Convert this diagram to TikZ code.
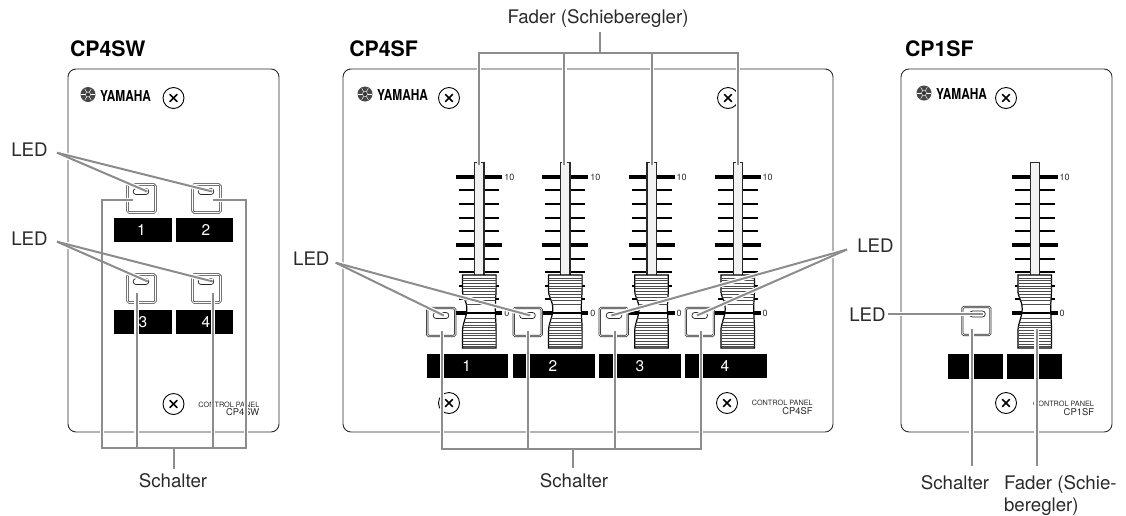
\documentclass[tikz,border=0pt]{standalone}
\usepackage{fontspec}
\setmainfont{TeX Gyre Heros}
\definecolor{ldrgray}{HTML}{8C8C8C}
\definecolor{inkc}{HTML}{2A2A2A}
\newcommand{\fs}[1]{\fontsize{#1}{#1}\selectfont}
\tikzset{
  panel/.style={draw=inkc,line width=.9,rounded corners=8,fill=white},
  lbl/.style={inner sep=0,outer sep=0,anchor=base,text=inkc,font=\fs{18.7}},
  ttl/.style={inner sep=0,outer sep=0,anchor=base west,text=black,font=\fs{21.3}\bfseries},
  btn/.style={draw=inkc,line width=.7,double=white,double distance=.7,rounded corners=1.5,minimum width=28,minimum height=28,inner sep=0,outer sep=0},
  ledcap/.style={draw=inkc,line width=.75,rounded corners=2.8,minimum width=15.5,minimum height=6,inner sep=0,outer sep=0},
  barbox/.style={fill=black,minimum height=24,inner sep=0,outer sep=0},
  digit/.style={text=white,font=\fs{15.5},inner sep=0,outer sep=0},
  screwc/.style={draw=black,line width=.9,circle,minimum size=21,inner sep=0,outer sep=0,fill=white},
  small/.style={inner sep=0,outer sep=0,text=inkc,anchor=base east},
  scaletxt/.style={inner sep=0,outer sep=0,text=inkc,font=\fs{9}},
}
\newcommand{\screw}[3]{%
  \node[screwc] (#3) at (#1,#2) {};
  \draw[line width=1.7,line cap=round,black] ([shift={(-3.5,-3.5)}]#3.center) -- ([shift={(3.5,3.5)}]#3.center);
  \draw[line width=1.7,line cap=round,black] ([shift={(-3.5,3.5)}]#3.center) -- ([shift={(3.5,-3.5)}]#3.center);
}
\newcommand{\yamaha}[3]{%
  \node[circle,fill=black!72,minimum size=15,inner sep=0,outer sep=0] (#3c) at (#1,#2) {};
  \foreach \ang in {0,60,120}{
    \draw[white,line width=.45] ([shift={(\ang:6.6)}]#3c.center) -- ([shift={(\ang+180:6.6)}]#3c.center);
  }
  \node[circle,draw=white,line width=.4,fill=black!80,minimum size=5,inner sep=0] (#3d) at (#1,#2) {};
  \node[inner sep=0,outer sep=0,anchor=west] (#3t) at (#1+12,#2+1) {\resizebox{51pt}{11pt}{\bfseries YAMAHA}};
}
\newcommand{\knobpath}{(-16.8,275) -- (-16.8,290) .. controls (-16.8,298) and (-12.5,300) .. (-12.5,309)
      .. controls (-12.5,318) and (-16.8,322) .. (-16.8,332) -- (-16.8,348) -- (16.8,348)
      -- (16.8,332) .. controls (16.8,322) and (16,316) .. (16,309) .. controls (16,300) and (16.8,296) .. (16.8,288)
      -- (16.8,275) -- cycle}
\newcommand{\fader}[3]{%
  \begin{scope}[shift={(#1,0)}]
    \foreach \yy in {190,204,218,231,259,272,286,299}{
      \draw[black,line width=1.8] (-20,\yy) -- (20,\yy);
    }
    \foreach \yy in {177,245,313}{
      \draw[black,line width=4] (-23,\yy) -- (23,\yy);
    }
    \draw[inkc,fill=black!5,line width=1.2] (-4.6,275) -- (-4.6,162.5) -- (4.6,162.5) -- (4.6,275);
    \path[draw=black,line width=1.2,fill=white] \knobpath;
    \begin{scope}
      \clip \knobpath;
      \foreach \yy in {278,280.7,283.4,286.1,288.8,291.5,294.2,297,300,304,318,322,325,327.7,330.4,333.1,335.8,338.5,341.2,343.9,346.3}{
        \draw[black!70,line width=.8] (-18,\yy) -- (18,\yy);
      }
      \draw[black,line width=2.2] (-18,313) -- (18,313);
    \end{scope}
    \draw[black,line width=4] (-23,313) -- (-13,313);
    \draw[black,line width=4] (16.5,313) -- (23,313);
  \end{scope}
  \node[scaletxt] (#2ten) at (#1+#3,177) {10};
  \node[scaletxt] (#2zero) at (#1+#3-2.5,313) {0};
}
\begin{document}
\begin{tikzpicture}[x=1pt,y=-1pt]
\useasboundingbox (0,0) rectangle (1126,515);
% panels
\node[panel,minimum width=211,minimum height=363,inner sep=0,outer sep=0] (pSW) at (173.5,250.5) {};
\node[panel,minimum width=490,minimum height=363,inner sep=0,outer sep=0] (pSF) at (588,250.5) {};
\node[panel,minimum width=211,minimum height=363,inner sep=0,outer sep=0] (pOne) at (1006.5,250.5) {};
% titles
\node[ttl] (tSW) at (70,56) {CP4SW};
\node[ttl] (tSF) at (349.3,56) {CP4SF};
\node[ttl] (tOne) at (905,56) {CP1SF};
% logos and screws
\yamaha{88}{94.5}{ya}
\yamaha{365}{94}{yb}
\yamaha{924}{93}{yc}
\screw{173.5}{98}{sa}
\screw{173.5}{404}{sb}
\screw{449}{98}{sc}
\screw{728}{98}{sd}
\screw{449}{403}{se}
\screw{727}{403}{sf}
\screw{1006}{98}{sg}
\screw{1006}{403}{sh}
% CP4SW buttons
\node[btn] (swb1) at (141.5,198.5) {};
\node[btn] (swb2) at (206.5,198.5) {};
\node[btn] (swb3) at (141.5,288.5) {};
\node[btn] (swb4) at (206.5,288.5) {};
\node[ledcap] (swl1) at (141,191.5) {};
\node[ledcap] (swl2) at (206,191.5) {};
\node[ledcap] (swl3) at (141,281.5) {};
\node[ledcap] (swl4) at (206,281.5) {};
\node[barbox,minimum width=58] (swn1) at (143,230) {};
\node[barbox,minimum width=57] (swn2) at (204.5,230) {};
\node[barbox,minimum width=58] (swn3) at (143,322) {};
\node[barbox,minimum width=57] (swn4) at (204.5,322) {};
\node[digit] (swd1) at (141.5,230) {1};
\node[digit] (swd2) at (206,230) {2};
\node[digit] (swd3) at (143,322) {3};
\node[digit] (swd4) at (206,322) {4};
\node[small,font=\fs{7.3}] (swc1) at (259.3,407) {CONTROL PANEL};
\node[small,font=\fs{9.4}] (swc2) at (259.3,415.7) {CP4SW};
% CP4SF faders
\fader{479.3}{fa}{30}
\fader{565.3}{fb}{30}
\fader{651.5}{fc}{30}
\fader{737.7}{fd}{30}
\node[btn] (sfb1) at (441.2,322) {};
\node[btn] (sfb2) at (527.7,322) {};
\node[btn] (sfb3) at (613.7,322) {};
\node[btn] (sfb4) at (699.8,322) {};
\node[ledcap] (sfl1) at (441,315.5) {};
\node[ledcap] (sfl2) at (527.5,315.5) {};
\node[ledcap] (sfl3) at (614,315.5) {};
\node[ledcap] (sfl4) at (699.7,315.5) {};
\node[barbox,minimum width=81.6] (sfn1) at (467.5,366.3) {};
\node[barbox,minimum width=81.7] (sfn2) at (554.2,366.3) {};
\node[barbox,minimum width=81.7] (sfn3) at (640.2,366.3) {};
\node[barbox,minimum width=81.7] (sfn4) at (725.9,366.3) {};
\node[digit] (sfd1) at (466.7,366.3) {1};
\node[digit] (sfd2) at (553,366.3) {2};
\node[digit] (sfd3) at (640,366.3) {3};
\node[digit] (sfd4) at (725,366.3) {4};
\node[small,font=\fs{7.3}] (sfc1) at (812.7,405.5) {CONTROL PANEL};
\node[small,font=\fs{9.4}] (sfc2) at (812.7,414) {CP4SF};
% CP1SF
\fader{1034.7}{fe}{30}
\draw[inkc,line width=1.2] (1030.1,162.5) -- (1039.3,162.5);
\node[btn] (oneb) at (976.3,321) {};
\node[ledcap] (onel) at (977.5,314) {};
\node[barbox,minimum width=55,minimum height=25] (onen1) at (975.8,366.5) {};
\node[barbox,minimum width=55,minimum height=25] (onen2) at (1034.5,366.5) {};
\node[small,font=\fs{7.3}] (onec1) at (1094,406) {CONTROL PANEL};
\node[small,font=\fs{9.4}] (onec2) at (1094,415) {CP1SF};
% labels
\node[lbl] (lA) at (29.5,156.7) {LED};
\node[lbl] (lB) at (29.5,245) {LED};
\node[lbl] (lC) at (311.3,265) {LED};
\node[lbl] (lD) at (875.5,252.3) {LED};
\node[lbl] (lE) at (867.5,321.7) {LED};
\node[lbl] (lF) at (598,23.3) {Fader (Schieberegler)};
\node[lbl] (lG) at (173,487.5) {Schalter};
\node[lbl] (lH) at (574,487) {Schalter};
\node[lbl] (lI) at (955,489) {Schalter};
\node[lbl,anchor=base west] (lJ) at (1004,489) {Fader (Schie-};
\node[lbl,anchor=base west] (lK) at (1004,511) {beregler)};
% connector junctions
\coordinate (cA) at (57,152.7);
\coordinate (cB) at (57,241.7);
\coordinate (cC) at (335.7,262.7);
\coordinate (cD) at (847,249.5);
\coordinate (cE) at (888,314);
\coordinate (busSW) at (173.7,448);
\coordinate (busSF) at (573.3,449.3);
\coordinate (busF) at (600,53);
\newcommand{\leaderpaths}{%
  \draw[ldr] (cA) -- ([xshift=-1.5]swl1.east);
  \draw[ldr] (cA) -- ([xshift=-1.5]swl2.east);
  \draw[ldr] (cB) -- ([xshift=-1]swl3.east);
  \draw[ldr] (cB) -- ([xshift=-1]swl4.east);
  \draw[ldr] (133,200) -| (102,448) -- (246,448) |- (213,200);
  \draw[ldr] (136.7,293) -- (136.7,448);
  \draw[ldr] (213,293) -- (213,448);
  \draw[ldr] (busSW) -- (173.7,469);
  \draw[ldr] (cC) -- ([xshift=-5]sfl1.east);
  \draw[ldr] (cC) -- ([xshift=-5]sfl2.east);
  \draw[ldr] (cD) -- ([xshift=5]sfl3.west);
  \draw[ldr] (cD) -- ([xshift=5]sfl4.west);
  \draw[ldr] (442,330.7) |- (701,449.3) -- (701,330.7);
  \draw[ldr] (528,330.7) -- (528,449.3);
  \draw[ldr] (615,330.7) -- (615,449.3);
  \draw[ldr] (busSF) -- (573.3,468);
  \draw[ldr] (479,165) |- (738,53) -- (738,165);
  \draw[ldr] (564.3,165) -- (564.3,53);
  \draw[ldr] (652,165) -- (652,53);
  \draw[ldr] (busF) -- (600,32);
  \draw[ldr] (cE) -- ([xshift=-2.5]onel.east);
  \draw[ldr] (971.7,329) -- (971.7,465.7);
  \draw[ldr] (1036.7,329) -- (1036.7,465.7);
}
\tikzset{ldr/.style={white,line width=4.5}}
\leaderpaths
\tikzset{ldr/.style={ldrgray,line width=2}}
\leaderpaths
\end{tikzpicture}
\end{document}
